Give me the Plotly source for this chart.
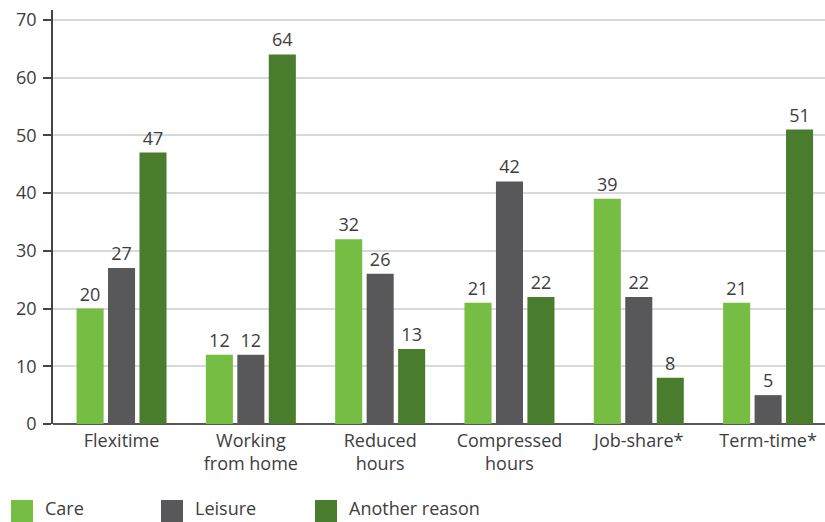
import plotly.graph_objects as go

categories = ["Flexitime", "Working<br>from home", "Reduced<br>hours",
              "Compressed<br>hours", "Job-share*", "Term-time*"]
care = [20, 12, 32, 21, 39, 21]
leisure = [27, 12, 26, 42, 22, 5]
another = [47, 64, 13, 22, 8, 51]

series = [
    ("Care", care, "#76bd43"),
    ("Leisure", leisure, "#58585a"),
    ("Another reason", another, "#4a7c2e"),
]

FONT = "Open Sans"
TXT = "#3d3d3d"
FS = 18

fig = go.Figure()
for name, vals, color in series:
    fig.add_trace(go.Bar(
        x=categories, y=vals, name=name, marker_color=color,
        marker_line_width=0,
        text=[str(v) for v in vals], textposition="outside",
        textfont=dict(family=FONT, size=FS, color=TXT),
        cliponaxis=False, showlegend=False,
    ))

fig.update_layout(
    width=825, height=522,
    margin=dict(l=53, r=0, t=10, b=98),
    plot_bgcolor="white", paper_bgcolor="white",
    barmode="group", bargap=0.27, bargroupgap=0.14,
    font=dict(family=FONT, size=FS, color=TXT),
)
fig.update_xaxes(
    range=[-0.53, 5.44], showgrid=False, ticks="",
    tickfont=dict(family=FONT, size=FS, color=TXT),
    showline=False, ticklabelstandoff=4,
)
fig.update_yaxes(
    range=[0, 71.7], tickvals=[0, 10, 20, 30, 40, 50, 60, 70],
    showgrid=True, gridcolor="#d9d9d9", gridwidth=1.5,
    zeroline=True, zerolinecolor="#555555", zerolinewidth=2,
    showline=True, linecolor="#444444", linewidth=1.5,
    ticks="outside", ticklen=8, tickcolor="#444444", tickwidth=1.5,
    tickfont=dict(family=FONT, size=FS, color=TXT),
    ticklabelstandoff=3,
)

# Legend drawn as swatches and labels along the bottom edge
legend_x = [(11, 44), (161, 194), (315, 348)]
for (sx, tx), (name, _, color) in zip(legend_x, series):
    fig.add_shape(type="rect", xref="paper", yref="paper",
                  x0=(sx - 53) / 772, x1=(sx + 22 - 53) / 772,
                  y0=-98 / 414, y1=-76 / 414,
                  fillcolor=color, line_width=0)
    fig.add_annotation(xref="paper", yref="paper", x=(tx - 53) / 772,
                       y=-97 / 414, text=name, showarrow=False,
                       xanchor="left", yanchor="bottom", borderpad=0,
                       font=dict(family=FONT, size=FS, color=TXT))

fig.write_html("out.html")
